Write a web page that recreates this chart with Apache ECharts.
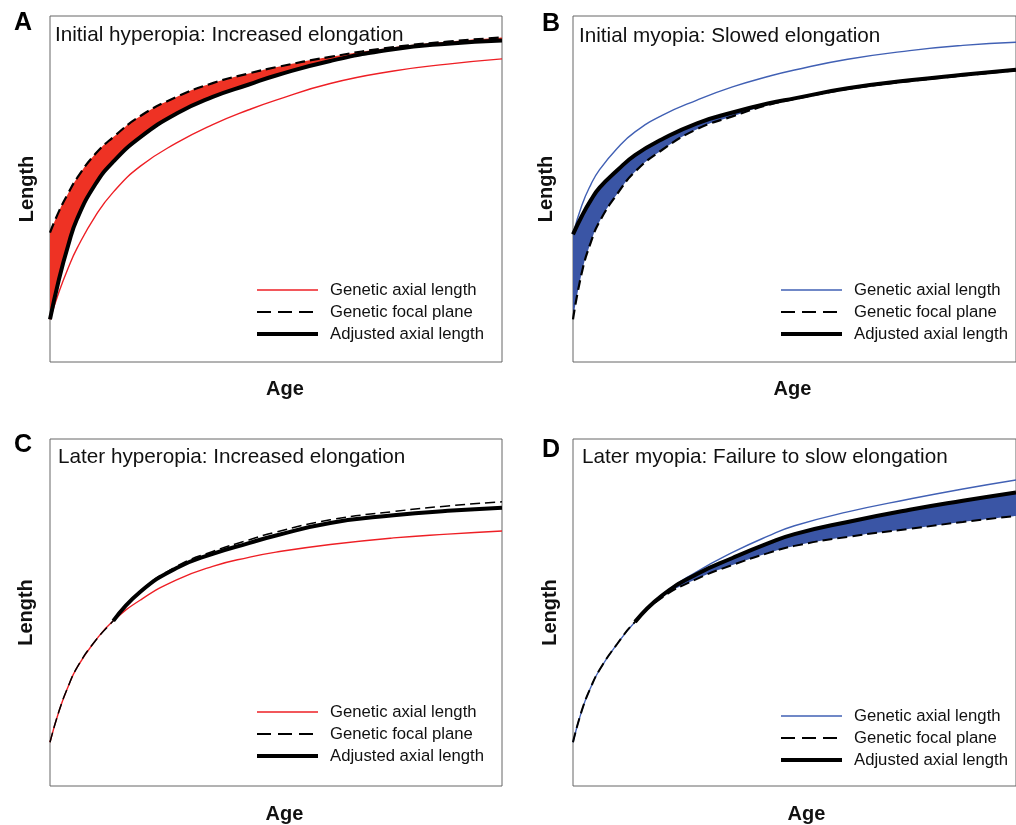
<!DOCTYPE html>
<html>
<head>
<meta charset="utf-8">
<script src="https://cdn.jsdelivr.net/npm/echarts@6/dist/echarts.min.js"></script>
<style>html,body{margin:0;padding:0;background:#fff;}#c{width:1016px;height:825px;}</style>
</head>
<body>
<div id="c"></div>
<script>
// ---- data (arbitrary units: age 0-100, length 0-100) ----
const ages = [0, 2, 4, 6, 10, 14, 20, 28, 36, 44, 50, 62, 76, 88, 100];

// A: Initial hyperopia
const genA   = [12.3, 20.3, 27.1, 32.9, 42.1, 49.1, 56.6, 63.3, 68.6, 72.9, 75.7, 80.5, 84.1, 86.1, 87.6];
const focalA = [37.4, 43.6, 48.7, 53.2, 60.1, 65.0, 71.1, 76.6, 80.6, 83.4, 85.2, 88.2, 91.0, 92.6, 93.8];
const adjA   = [12.3, 24.0, 33.6, 41.4, 51.3, 57.9, 65.0, 71.8, 76.6, 80.2, 82.8, 87.0, 90.4, 92.0, 92.9];

// B: Initial myopia
const genB   = [36.9, 45.3, 51.2, 55.6, 61.8, 66.5, 71.2, 75.7, 79.5, 82.5, 84.4, 87.5, 90.0, 91.5, 92.4];
const focalB = [12.3, 25.9, 34.5, 40.6, 48.6, 55.0, 61.2, 67.3, 71.0, 74.3, 76.0, 78.9, 81.2, 82.8, 84.3];
const adjB   = [36.9, 42.2, 46.7, 50.4, 55.4, 59.8, 64.3, 69.0, 72.1, 74.7, 76.2, 79.1, 81.4, 83.0, 84.5];

// C: Later hyperopia
const genC   = [12.6, 21.6, 28.6, 34.2, 41.8, 47.6, 53.6, 59.4, 63.3, 65.9, 67.4, 69.6, 71.5, 72.6, 73.5];
const focalC = [12.6, 21.6, 28.6, 34.2, 41.8, 47.6, 56.2, 63.3, 67.6, 70.9, 73.2, 76.7, 79.1, 80.7, 81.9];
const adjC   = [null, null, null, null, null, 47.6, 56.0, 62.8, 66.9, 70.0, 72.2, 75.8, 78.0, 79.3, 80.2];

// D: Later myopia
const genD   = [12.6, 21.8, 28.4, 33.5, 41.0, 47.3, 55.0, 61.8, 67.3, 72.0, 75.0, 79.0, 82.7, 85.6, 88.2];
const focalD = [12.6, 21.8, 28.4, 33.5, 41.0, 47.3, 54.2, 59.7, 63.7, 67.1, 69.2, 71.8, 74.1, 76.1, 77.8];
const adjD   = [null, null, null, null, null, 47.3, 54.8, 61.1, 65.7, 69.9, 72.6, 76.1, 79.6, 82.2, 84.6];

const panelLetters = ['A', 'B', 'C', 'D'];
const panelTitles = [
  'Initial hyperopia: Increased elongation',
  'Initial myopia: Slowed elongation',
  'Later hyperopia: Increased elongation',
  'Later myopia: Failure to slow elongation'
];
const legendNames = ['Genetic axial length', 'Genetic focal plane', 'Adjusted axial length'];

// ---- styling ----
const FONT = "'Liberation Sans', Arial, Helvetica, sans-serif";
const RED_LINE = '#ee1f25', RED_FILL = '#ee3224';
const BLUE_LINE = '#4160b4', BLUE_FILL = '#3a55a5';

const panels = [
  {gen: genA, focal: focalA, adj: adjA, upper: focalA, lower: adjA, line: RED_LINE, fill: RED_FILL,
   grid: {left: 50, top: 16, width: 452, height: 346}, dashW: 2.2, yGap: 13, xGap: 17, xShift: 18,
   letter: {left: 14, top: 11}, title: {left: 55, top: 25}, legend: {left: 255, top: 279}},
  {gen: genB, focal: focalB, adj: adjB, upper: adjB, lower: focalB, line: BLUE_LINE, fill: BLUE_FILL,
   grid: {left: 573, top: 16, width: 452, height: 346}, dashW: 2.2, yGap: 17, xGap: 17, xShift: -4,
   letter: {left: 542, top: 12}, title: {left: 579, top: 26}, legend: {left: 779, top: 279}},
  {gen: genC, focal: focalC, adj: adjC, upper: null, lower: null, line: RED_LINE, fill: RED_FILL,
   grid: {left: 50, top: 439, width: 452, height: 347}, dashW: 1.5, yGap: 14, xGap: 18, xShift: 17,
   letter: {left: 14, top: 433}, title: {left: 58, top: 447}, legend: {left: 255, top: 701}},
  {gen: genD, focal: focalD, adj: adjD, upper: adjD, lower: focalD, line: BLUE_LINE, fill: BLUE_FILL,
   grid: {left: 573, top: 439, width: 452, height: 347}, dashW: 2, yGap: 13, xGap: 18, xShift: 24,
   letter: {left: 542, top: 438}, title: {left: 582, top: 447}, legend: {left: 779, top: 705}}
];

function pairs(ys) {
  return ages.map((a, i) => [a, ys[i] == null ? '-' : ys[i]]);
}
// [length, age] order so that the stacked dimension is the length
function pairsYX(ys) {
  return ages.map((a, i) => [ys[i], a]);
}

const grids = [], xAxes = [], yAxes = [], series = [], titles = [], legends = [];

panels.forEach((p, k) => {
  grids.push(Object.assign({show: true, borderColor: '#666', borderWidth: 1, backgroundColor: 'transparent'}, p.grid));
  xAxes.push({
    gridIndex: k, type: 'value', min: 0, max: 100,
    axisLine: {show: false}, axisTick: {show: false}, axisLabel: {show: false}, splitLine: {show: false},
    name: 'Age', nameLocation: 'middle', nameGap: p.xGap,
    nameTextStyle: {fontFamily: FONT, fontSize: 20, fontWeight: 'bold', color: '#111',
      padding: p.xShift >= 0 ? [0, 0, 0, p.xShift] : [0, -p.xShift, 0, 0]}
  });
  yAxes.push({
    gridIndex: k, type: 'value', min: 0, max: 100,
    axisLine: {show: false}, axisTick: {show: false}, axisLabel: {show: false}, splitLine: {show: false},
    name: 'Length', nameLocation: 'middle', nameGap: p.yGap, nameRotate: 90,
    nameTextStyle: {fontFamily: FONT, fontSize: 20, fontWeight: 'bold', color: '#111'}
  });

  const common = {type: 'line', xAxisIndex: k, yAxisIndex: k, symbol: 'none', showSymbol: false,
    smooth: 0.5, silent: true, animation: false};

  // shaded band between the adjusted length and the genetic focal plane
  if (p.upper) {
    const diff = p.upper.map((u, i) => {
      const l = p.lower[i];
      if (u == null || l == null) return 0;
      return Math.max(0, u - l);
    });
    const base = p.lower.map((l, i) => l == null ? p.focal[i] : l);
    series.push(Object.assign({}, common, {
      name: 'band-base-' + k, stack: 'band' + k, data: pairsYX(base), encode: {x: 1, y: 0},
      lineStyle: {width: 0, opacity: 0}
    }));
    series.push(Object.assign({}, common, {
      name: 'band-' + k, stack: 'band' + k, data: pairsYX(diff), encode: {x: 1, y: 0},
      lineStyle: {width: 0, opacity: 0},
      areaStyle: {color: p.fill, opacity: 1}
    }));
  }

  series.push(Object.assign({}, common, {
    name: legendNames[0], data: pairs(p.gen),
    lineStyle: {color: p.line, width: 1.4}, itemStyle: {color: p.line}
  }));
  series.push(Object.assign({}, common, {
    name: legendNames[1], data: pairs(p.focal),
    lineStyle: {color: '#000', width: p.dashW, type: [10, 5]}, itemStyle: {color: '#000'}
  }));
  series.push(Object.assign({}, common, {
    name: legendNames[2], data: pairs(p.adj), connectNulls: false,
    lineStyle: {color: '#000', width: 4}, itemStyle: {color: '#000'}
  }));

  titles.push({text: panelLetters[k], left: p.letter.left, top: p.letter.top, padding: 0,
    textStyle: {fontFamily: FONT, fontSize: 25, fontWeight: 'bold', color: '#000'}});
  titles.push({text: panelTitles[k], left: p.title.left, top: p.title.top, padding: 0,
    textStyle: {fontFamily: FONT, fontSize: 20.7, fontWeight: 'normal', color: '#111'}});

  const hide = {opacity: 0, borderWidth: 0};
  legends.push({
    left: p.legend.left, top: p.legend.top, orient: 'vertical', padding: 0,
    itemWidth: 61, itemHeight: 22, itemGap: 0, selectedMode: false,
    textStyle: {fontFamily: FONT, fontSize: 16.7, color: '#111', lineHeight: 22, padding: [0, 0, 0, 7]},
    data: [
      {name: legendNames[0], itemStyle: hide, lineStyle: {color: p.line, width: 1.5, type: 'solid'}},
      {name: legendNames[1], itemStyle: hide, lineStyle: {color: '#000', width: 2, type: [14, 7]}},
      {name: legendNames[2], itemStyle: hide, lineStyle: {color: '#000', width: 4, type: 'solid'}}
    ]
  });
});

const chart = echarts.init(document.getElementById('c'), null, {renderer: 'canvas'});
chart.setOption({
  backgroundColor: '#fff',
  animation: false,
  title: titles,
  legend: legends,
  grid: grids,
  xAxis: xAxes,
  yAxis: yAxes,
  series: series
});
</script>
</body>
</html>
